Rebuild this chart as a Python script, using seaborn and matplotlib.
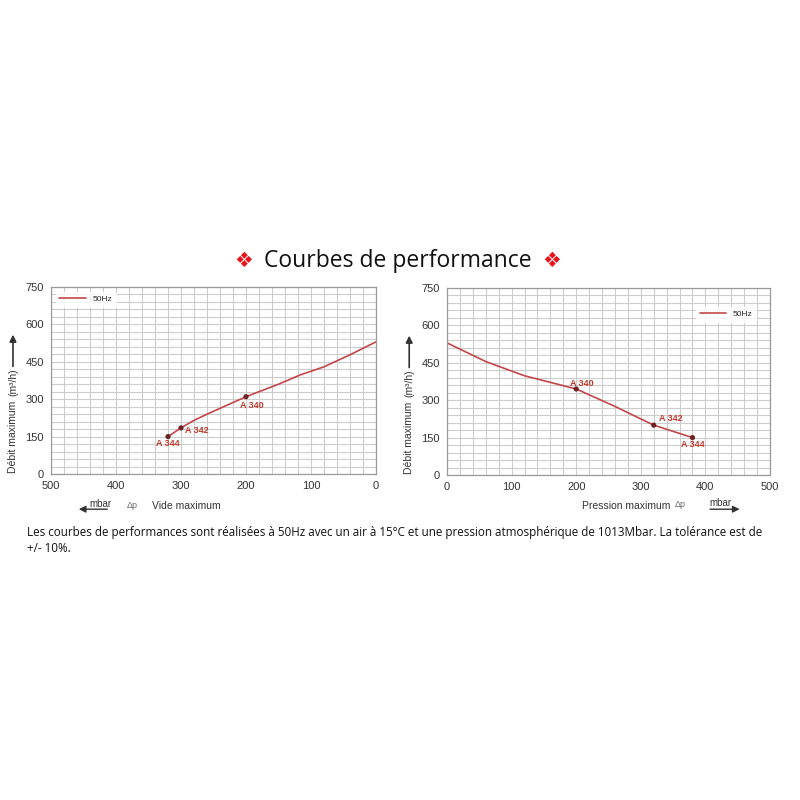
import matplotlib.pyplot as plt
import pandas as pd
import seaborn as sns

# Vacuum curve (left)
vide_mbar = [320, 300, 280, 260, 200, 150, 117, 80, 40, 0]
vide_flow = [150, 185, 215, 240, 310, 360, 397, 430, 478, 530]
# Pressure curve (right)
pression_mbar = [0, 60, 120, 200, 260, 320, 380]
pression_flow = [530, 455, 398, 345, 275, 200, 150]

# Model points
models = ['A 344', 'A 342', 'A 340']
vide_pts = [320, 300, 200]
vide_pts_flow = [150, 185, 310]
pression_pts = [380, 320, 200]
pression_pts_flow = [150, 200, 345]

x_ticks = [0, 100, 200, 300, 400, 500]
y_ticks = [0, 150, 300, 450, 600, 750]

curve_color = '#c4464a'
point_color = '#6e2323'
label_color = '#c0392b'

sns.set_style('white')
plt.rcParams['font.family'] = ['Liberation Sans', 'DejaVu Sans']

fig = plt.figure(figsize=(8, 8), dpi=100)
fig.patch.set_facecolor('white')

df_vide = pd.DataFrame({'mbar': vide_mbar, 'flow': vide_flow})
df_pres = pd.DataFrame({'mbar': pression_mbar, 'flow': pression_flow})
pts_vide = pd.DataFrame({'mbar': vide_pts, 'flow': vide_pts_flow, 'name': models})
pts_pres = pd.DataFrame({'mbar': pression_pts, 'flow': pression_pts_flow, 'name': models})


def style_axes(ax, invert):
    ax.set_xlim(500, 0) if invert else ax.set_xlim(0, 500)
    ax.set_ylim(0, 750)
    ax.set_xticks(x_ticks)
    ax.set_yticks(y_ticks)
    ax.set_xticks(range(0, 501, 20), minor=True)
    ax.set_yticks(range(0, 751, 30), minor=True)
    ax.grid(which='both', color='#cccccc', linewidth=0.8)
    ax.set_axisbelow(True)
    for s in ax.spines.values():
        s.set_color('#9a9a9a')
        s.set_linewidth(0.9)
    ax.tick_params(which='both', length=0, labelsize=8, colors='#333333', pad=5)
    ax.set_xlabel('')
    ax.set_ylabel('')
    ax.text(-0.117, 0.2, 'Débit maximum', transform=ax.transAxes, rotation=90,
            fontsize=7.5, color='#333333', ha='center', va='center')
    ax.text(-0.117, 0.49, '(m³/h)', transform=ax.transAxes, rotation=90,
            fontsize=7.5, color='#333333', ha='center', va='center')
    ax.annotate('', xy=(-0.117, 0.76), xytext=(-0.117, 0.56), xycoords='axes fraction',
                arrowprops=dict(arrowstyle='-|>', color='#333333', lw=1.2))


# Left chart
ax1 = fig.add_axes([0.06375, 0.4075, 0.40625, 0.23375])
sns.lineplot(data=df_vide, x='mbar', y='flow', sort=False, color=curve_color,
             linewidth=1.2, ax=ax1, label='50Hz')
sns.scatterplot(data=pts_vide, x='mbar', y='flow', color=point_color, s=14,
                edgecolor='none', ax=ax1, zorder=5)
style_axes(ax1, True)
offs1 = [(0, -5), (3, -2), (4, -6)]
has1 = ['center', 'left', 'center']
for (_, r), off, ha in zip(pts_vide.iterrows(), offs1, has1):
    ax1.annotate(r['name'], (r['mbar'], r['flow']), xytext=off, textcoords='offset points',
                 ha=ha, va='center', fontsize=6.5, fontweight='bold', color=label_color)
leg1 = ax1.legend(loc='upper left', fontsize=6, frameon=True, handlelength=3.2,
                  borderaxespad=0.6)
leg1.get_frame().set_edgecolor('white')

# Right chart
ax2 = fig.add_axes([0.55875, 0.40625, 0.40375, 0.23375])
sns.lineplot(data=df_pres, x='mbar', y='flow', sort=False, color=curve_color,
             linewidth=1.2, ax=ax2, label='50Hz')
sns.scatterplot(data=pts_pres, x='mbar', y='flow', color=point_color, s=14,
                edgecolor='none', ax=ax2, zorder=5)
style_axes(ax2, False)
offs2 = [(0, -5), (4, 5), (4, 4)]
has2 = ['center', 'left', 'center']
for (_, r), off, ha in zip(pts_pres.iterrows(), offs2, has2):
    ax2.annotate(r['name'], (r['mbar'], r['flow']), xytext=off, textcoords='offset points',
                 ha=ha, va='center', fontsize=6.5, fontweight='bold', color=label_color)
leg2 = ax2.legend(loc='upper right', fontsize=6, frameon=True, handlelength=3.2,
                  bbox_to_anchor=(0.97, 0.92))
leg2.get_frame().set_edgecolor('white')

# x-axis captions
fig.text(0.125, 0.370, 'mbar', fontsize=7, color='#333333', ha='center', va='center')
fig.text(0.165, 0.368, 'Δp', fontsize=6.5, color='#666666', ha='center', va='center')
fig.text(0.19, 0.367, 'Vide maximum', fontsize=7.5, color='#333333', ha='left', va='center')
ax1.annotate('', xy=(0.095, 0.3635), xytext=(0.1375, 0.3635), xycoords='figure fraction',
             arrowprops=dict(arrowstyle='-|>', color='#333333', lw=1.0))

fig.text(0.727, 0.367, 'Pression maximum', fontsize=7.5, color='#333333', ha='left', va='center')
fig.text(0.85, 0.369, 'Δp', fontsize=6.5, color='#666666', ha='center', va='center')
fig.text(0.9, 0.371, 'mbar', fontsize=7, color='#333333', ha='center', va='center')
ax2.annotate('', xy=(0.928, 0.3635), xytext=(0.884, 0.3635), xycoords='figure fraction',
             arrowprops=dict(arrowstyle='-|>', color='#333333', lw=1.0))

# Title
fig.text(0.304, 0.674, '❖', fontsize=15, color='#e8141c', ha='center', va='center',
         family=['DejaVu Sans'])
fig.text(0.4975, 0.674, 'Courbes de performance', fontsize=16.5, color='#111111',
         ha='center', va='center', family=['Open Sans', 'DejaVu Sans'])
fig.text(0.689, 0.674, '❖', fontsize=15, color='#e8141c', ha='center', va='center',
         family=['DejaVu Sans'])

# Footnote
fig.text(0.034, 0.334, 'Les courbes de performances sont réalisées à 50Hz avec un air à 15°C et une '
         'pression atmosphérique de 1013Mbar. La tolérance est de', fontsize=8.35,
         color='#111111', ha='left', va='center', family=['Open Sans', 'DejaVu Sans'])
fig.text(0.034, 0.315, '+/- 10%.', fontsize=8.35, color='#111111', ha='left', va='center',
         family=['Open Sans', 'DejaVu Sans'])

fig.savefig('out.png', dpi=100, facecolor='white')
